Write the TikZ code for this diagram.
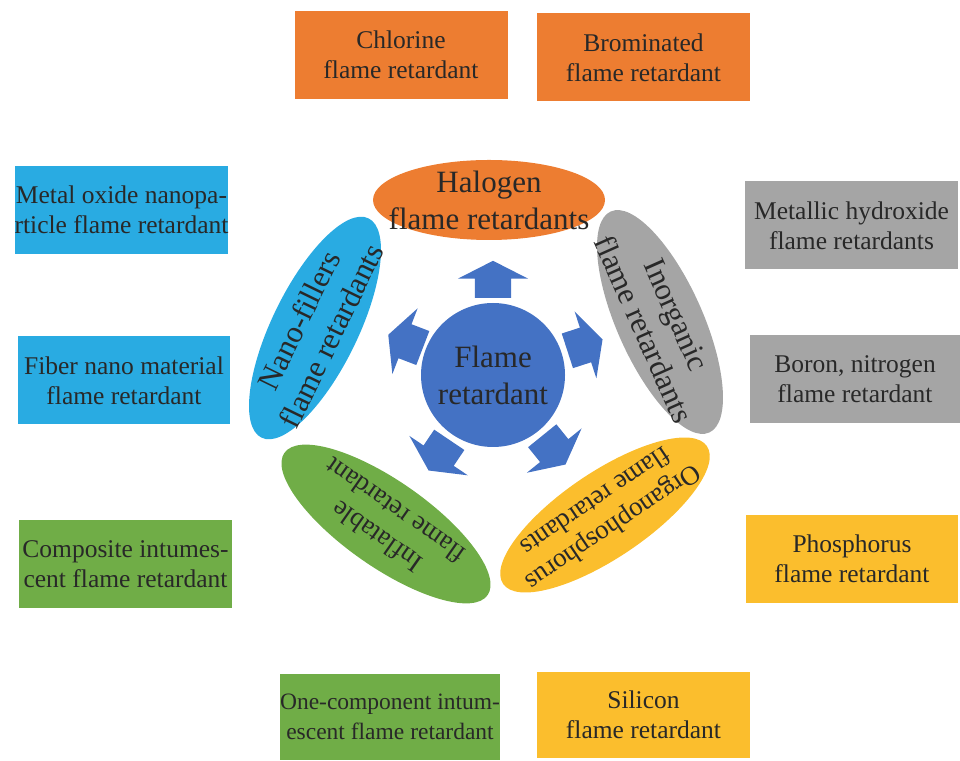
\documentclass[tikz,border=0pt]{standalone}
\usepackage{fontspec}
\setmainfont{Liberation Serif}
\usetikzlibrary{shapes.geometric, shapes.arrows, calc}

\definecolor{orgfill}{RGB}{237,125,49}
\definecolor{bluefill}{RGB}{41,171,226}
\definecolor{grayfill}{RGB}{165,165,165}
\definecolor{greenfill}{RGB}{112,173,71}
\definecolor{yellowfill}{RGB}{251,190,45}
\definecolor{corefill}{RGB}{68,114,196}
\definecolor{txt}{RGB}{40,40,40}

\begin{document}
\begin{tikzpicture}[
		x=1pt, y=1pt,
		core/.style ={
			circle,		fill=corefill,	text=txt,	align=center,
			inner sep=0pt,	minimum size=144pt,	font=\fontsize{31}{37}\selectfont
		},
		kind/.style ={
			ellipse,	inner sep=0pt
		},
		kindtext/.style ={
			text=txt,	align=center,	inner sep=0pt
		},
		member/.style={
			rectangle,	text=txt,	align=center,	inner sep=0pt,
			minimum width=213pt,	minimum height=88pt,	font=\fontsize{25.5}{30}\selectfont
		},
		spoke/.style={
			single arrow,	fill=corefill,	inner sep=0pt,
			text height=36pt,	text depth=0pt,	minimum height=37pt,
			single arrow head extend=17pt,	single arrow tip angle=126,
			single arrow head indent=0pt
		},
	]

	\useasboundingbox (0,0) rectangle (960,760);

	% centre
	\node (core) at (493,385) [core] {Flame\\retardant};

	% families round the centre
	\foreach \nm/\px/\py/\rot/\wdt/\hgt/\col/\fsz/\bsk/\txt in {%
			halogen/489/560/0/232/80/orgfill/31/37/{Halogen\\flame retardants},
			inorganic/660/438/-66/242/86/grayfill/31/36/{Inorganic\\flame retardants},
			organo/605/245/-146/246/86/yellowfill/27/32/{Organophosphorus\\flame retardants},
			inflat/386/236/145/248/86/greenfill/27/32/{Inflatable\\flame retardant},
			nano/315/432/64/244/86/bluefill/31/36/{Nano-fillers\\flame retardants}}
	{
		\node (\nm) at (\px,\py) [kind, fill=\col, rotate=\rot,
			minimum width=\wdt pt, minimum height=\hgt pt] {};
		\node (\nm text) at (\nm) [kindtext, rotate=\rot,
			font=\fontsize{\fsz}{\bsk}\selectfont] {\txt};
	}

	% arrows from the centre
	\foreach \ang/\rad/\nm in {90/77/halogen, 18/78/inorganic, -51/78/organo, -124/78/inflat, 159/75/nano}
		\node (\nm spoke) at ($(core)+(\ang:\rad)$) [spoke, rotate=\ang, anchor=tail] {};

	% members of each family
	\node (chlorine)	at (401,705)	[member, fill=orgfill]	{Chlorine\\flame retardant};
	\node (bromine)		at (643.5,702.5)	[member, fill=orgfill]	{Brominated\\flame retardant};

	\node (metoxide)	at (121.5,550)	[member, fill=bluefill]	{Metal oxide nanopa-\\rticle flame retardant};
	\node (fiber)		at (124,379.5)	[member, fill=bluefill, minimum width=212pt]	{Fiber nano material\\flame retardant};

	\node (hydroxide)	at (851.5,534.5)	[member, fill=grayfill]	{Metallic hydroxide\\flame retardants};
	\node (boron)		at (855,380.5)	[member, fill=grayfill, minimum width=210pt]	{Boron, nitrogen\\flame retardant};

	\node (composite)	at (125.5,195.5)	[member, fill=greenfill]	{Composite intumes-\\cent flame retardant};
	\node (onecomp)		at (390,43)	[member, fill=greenfill, minimum width=214pt, minimum height=86pt,
		font=\fontsize{23.5}{30}\selectfont]	{One-component intum-\\escent flame retardant};

	\node (phosphorus)	at (852,201)	[member, fill=yellowfill, minimum width=212pt]	{Phosphorus\\flame retardant};
	\node (silicon)		at (643.5,45)	[member, fill=yellowfill, minimum height=86pt]	{Silicon\\flame retardant};

\end{tikzpicture}
\end{document}
